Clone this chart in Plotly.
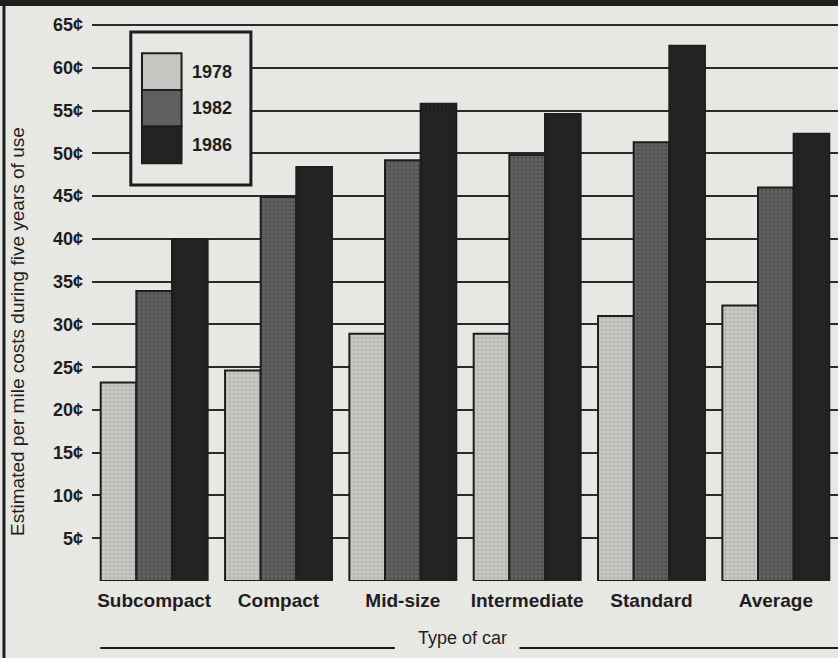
import plotly.graph_objects as go

categories = ["Subcompact", "Compact", "Mid-size", "Intermediate", "Standard", "Average"]
series_names = ["1978", "1982", "1986"]
values_1978 = [23.2, 24.6, 28.9, 28.9, 31.0, 32.2]
values_1982 = [33.9, 44.9, 49.2, 49.8, 51.3, 46.0]
values_1986 = [40.0, 48.4, 55.8, 54.6, 62.6, 52.3]
tick_values = [5, 10, 15, 20, 25, 30, 35, 40, 45, 50, 55, 60, 65]
tick_labels = [f"{v}¢" for v in tick_values]

colors = ["#c6c6c3", "#606060", "#232323"]
pattern_fg = ["#9a9a98", "#3a3a3a", "#1a1a1a"]
bg = "#e7e7e4"
ink = "#1e1e1e"

fig = go.Figure()
for name, vals, col, pfg in zip(series_names, [values_1978, values_1982, values_1986], colors, pattern_fg):
    fig.add_trace(go.Bar(
        x=categories, y=vals, name=name,
        marker=dict(color=col, line=dict(color=ink, width=2),
                    pattern=dict(shape=".", size=4, solidity=0.25, fgcolor=pfg)),
        showlegend=False,
    ))

fig.update_layout(
    width=838, height=658,
    margin=dict(l=92, r=0, t=8, b=77),
    paper_bgcolor=bg, plot_bgcolor=bg,
    barmode="group", bargap=0.14, bargroupgap=0,
    font=dict(family="Liberation Sans, Arial, sans-serif", color=ink),
    xaxis=dict(showgrid=False, showline=False, ticks="",
               tickfont=dict(family="Liberation Sans Narrow, Liberation Sans, Arial", size=19, color=ink, weight="bold"),
               ticklabelstandoff=6),
    yaxis=dict(range=[0, 67], tickvals=tick_values, ticktext=tick_labels,
               showgrid=True, gridcolor="#2a2a2a", gridwidth=2,
               zeroline=False, showline=False, ticks="",
               tickfont=dict(size=18, color=ink, weight="bold"),
               ticklabelstandoff=8),
)

# y axis title (placed lower, as in the original)
fig.add_annotation(xref="paper", yref="paper", x=-0.099, y=0.435,
                   text="Estimated per mile costs during five years of use",
                   textangle=-90, showarrow=False, xanchor="center", yanchor="middle",
                   font=dict(size=19, color=ink))

# frame decorations
fig.add_shape(type="rect", xref="paper", yref="paper", x0=-0.2, x1=1.01, y0=1.0035, y1=1.03,
              fillcolor=ink, line=dict(width=0), layer="above")
fig.add_shape(type="line", xref="paper", yref="paper", x0=-0.118, x1=-0.118, y0=-0.14, y1=1.02,
              line=dict(color=ink, width=3))

# legend box (custom)
fig.add_shape(type="rect", xref="paper", yref="paper", x0=0.052, x1=0.213, y0=0.691, y1=0.958,
              fillcolor=bg, line=dict(color=ink, width=3), layer="above")
sw_top = 0.921
sw_h = 0.064
for i, (name, col, pfg) in enumerate(zip(series_names, colors, pattern_fg)):
    y1 = sw_top - i * sw_h
    y0 = y1 - sw_h
    fig.add_shape(type="rect", xref="paper", yref="paper", x0=0.067, x1=0.12, y0=y0, y1=y1,
                  fillcolor=col, line=dict(color=ink, width=2), layer="above")
    fig.add_annotation(xref="paper", yref="paper", x=0.131, y=(y0 + y1) / 2, text=name,
                       showarrow=False, xanchor="left", yanchor="middle",
                       font=dict(size=18, color=ink, weight="bold"))

# x axis title with rules
fig.add_annotation(xref="paper", yref="paper", x=0.497, y=-0.099, text="Type of car",
                   showarrow=False, xanchor="center", yanchor="middle", font=dict(size=18, color=ink))
fig.add_shape(type="line", xref="paper", yref="paper", x0=0.011, x1=0.406, y0=-0.117, y1=-0.117,
              line=dict(color=ink, width=2))
fig.add_shape(type="line", xref="paper", yref="paper", x0=0.573, x1=1.0, y0=-0.117, y1=-0.117,
              line=dict(color=ink, width=2))

fig.write_html("out.html", config={"displayModeBar": False})

# remove default page margin so the figure sits at the window origin
with open("out.html", "r", encoding="utf-8") as f:
    html = f.read()
html = html.replace("<body>", '<body style="margin:0;padding:0;overflow:hidden">', 1)
with open("out.html", "w", encoding="utf-8") as f:
    f.write(html)
